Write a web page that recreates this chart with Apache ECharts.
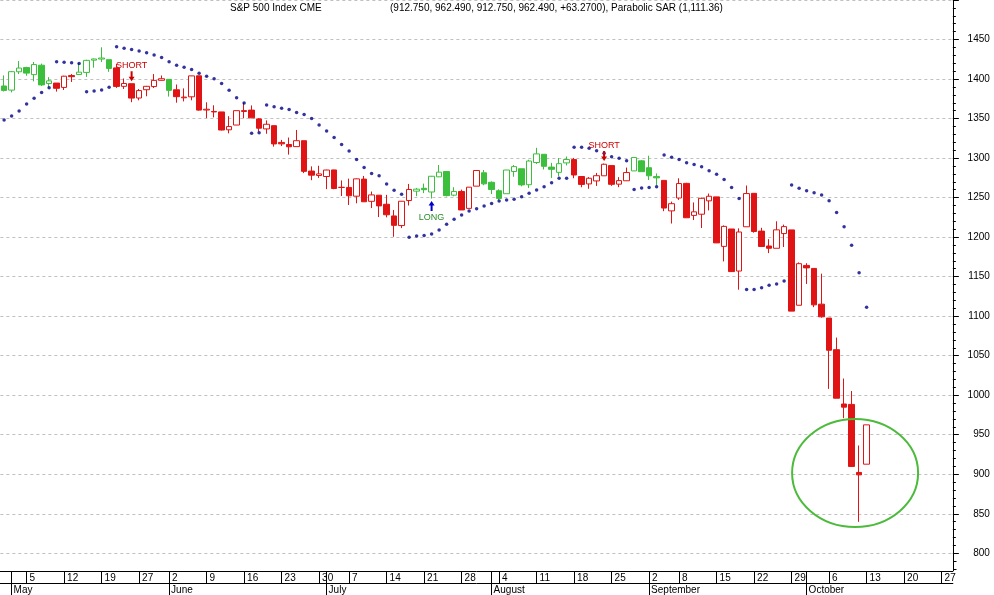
<!DOCTYPE html>
<html><head><meta charset="utf-8">
<script src="https://cdn.jsdelivr.net/npm/echarts@6/dist/echarts.min.js"></script>
<style>html,body{margin:0;padding:0;background:#fff}#c{width:994px;height:595px}</style>
</head><body><div id="c"></div>
<script>
const dates = [
'2008-04-30',
'2008-05-01','2008-05-02','2008-05-05','2008-05-06','2008-05-07','2008-05-08','2008-05-09','2008-05-12','2008-05-13','2008-05-14','2008-05-15','2008-05-16','2008-05-19','2008-05-20','2008-05-21','2008-05-22','2008-05-23','2008-05-27','2008-05-28','2008-05-29','2008-05-30',
'2008-06-02','2008-06-03','2008-06-04','2008-06-05','2008-06-06','2008-06-09','2008-06-10','2008-06-11','2008-06-12','2008-06-13','2008-06-16','2008-06-17','2008-06-18','2008-06-19','2008-06-20','2008-06-23','2008-06-24','2008-06-25','2008-06-26','2008-06-27','2008-06-30',
'2008-07-01','2008-07-02','2008-07-03','2008-07-07','2008-07-08','2008-07-09','2008-07-10','2008-07-11','2008-07-14','2008-07-15','2008-07-16','2008-07-17','2008-07-18','2008-07-21','2008-07-22','2008-07-23','2008-07-24','2008-07-25','2008-07-28','2008-07-29','2008-07-30','2008-07-31',
'2008-08-01','2008-08-04','2008-08-05','2008-08-06','2008-08-07','2008-08-08','2008-08-11','2008-08-12','2008-08-13','2008-08-14','2008-08-15','2008-08-18','2008-08-19','2008-08-20','2008-08-21','2008-08-22','2008-08-25','2008-08-26','2008-08-27','2008-08-28','2008-08-29',
'2008-09-02','2008-09-03','2008-09-04','2008-09-05','2008-09-08','2008-09-09','2008-09-10','2008-09-11','2008-09-12','2008-09-15','2008-09-16','2008-09-17','2008-09-18','2008-09-19','2008-09-22','2008-09-23','2008-09-24','2008-09-25','2008-09-26','2008-09-29','2008-09-30',
'2008-10-01','2008-10-02','2008-10-03','2008-10-06','2008-10-07','2008-10-08','2008-10-09','2008-10-10','2008-10-13','2008-10-14','2008-10-15','2008-10-16','2008-10-17','2008-10-20','2008-10-21','2008-10-22','2008-10-23','2008-10-24','2008-10-27','2008-10-28'
];
const opens = [1391.2,1386.0,1409.2,1414.5,1405.6,1417.5,1394.3,1394.9,1389.4,1404.4,1405.7,1408.4,1423.9,1425.3,1424.5,1414.1,1390.8,1394.1,1376.0,1386.5,1390.5,1398.4,1399.6,1386.4,1376.3,1377.5,1404.1,1360.8,1359.0,1358.4,1335.8,1341.8,1358.9,1360.7,1349.6,1336.9,1341.0,1319.8,1317.2,1314.5,1322.0,1283.6,1278.0,1276.7,1285.0,1263.0,1262.9,1251.8,1273.4,1245.3,1253.1,1241.6,1226.8,1214.6,1246.3,1258.2,1261.8,1257.1,1276.3,1283.0,1253.1,1257.8,1236.4,1264.5,1281.4,1269.4,1258.7,1254.9,1283.0,1286.5,1266.3,1294.4,1304.8,1288.6,1282.0,1293.9,1298.1,1276.7,1267.3,1271.1,1277.6,1290.5,1267.0,1271.3,1283.8,1296.5,1287.8,1276.6,1271.8,1233.2,1249.5,1268.0,1227.5,1229.0,1245.9,1250.9,1188.3,1210.3,1157.1,1213.1,1255.4,1207.6,1188.8,1185.9,1204.5,1209.1,1113.8,1164.2,1160.4,1115.2,1097.6,1057.6,988.9,988.4,902.3,912.75];
const highs = [1404.6,1410.1,1422.7,1415.5,1421.6,1419.5,1402.4,1394.9,1404.1,1406.3,1420.2,1424.4,1425.8,1440.2,1424.5,1419.1,1400.7,1394.1,1387.4,1391.3,1406.3,1404.5,1399.6,1393.1,1388.2,1404.1,1404.1,1370.6,1366.8,1358.4,1353.0,1360.0,1370.0,1366.6,1350.7,1347.7,1341.0,1323.0,1326.0,1335.6,1322.0,1289.5,1290.3,1285.3,1285.3,1271.7,1274.0,1274.2,1277.4,1257.7,1253.1,1253.5,1234.4,1245.5,1267.3,1262.2,1267.7,1277.4,1291.2,1283.0,1263.2,1260.1,1263.2,1284.3,1284.9,1270.5,1260.5,1285.0,1291.2,1286.5,1297.9,1313.0,1304.8,1294.0,1300.1,1302.0,1300.2,1276.7,1276.0,1281.2,1293.1,1290.5,1275.9,1288.0,1300.7,1297.6,1303.0,1280.6,1271.8,1244.9,1274.4,1268.7,1243.9,1250.0,1255.1,1250.9,1214.8,1210.3,1211.1,1265.3,1255.4,1211.8,1197.4,1220.0,1215.8,1209.1,1168.0,1167.0,1160.4,1153.8,1097.6,1072.9,1021.1,1005.3,936.4,962.49];
const lows = [1384.3,1383.1,1406.3,1404.2,1397.1,1391.2,1389.5,1384.1,1386.2,1396.3,1405.7,1402.6,1414.4,1421.6,1409.1,1388.8,1387.5,1370.7,1373.1,1378.2,1388.6,1398.1,1377.8,1370.1,1371.7,1373.1,1359.9,1350.6,1351.5,1335.0,1331.3,1341.7,1350.4,1350.5,1333.4,1330.8,1314.5,1315.3,1304.4,1314.5,1281.0,1272.0,1274.9,1260.7,1260.6,1252.0,1240.7,1242.8,1244.5,1236.8,1225.4,1225.0,1200.4,1211.4,1240.0,1251.8,1255.7,1248.8,1276.0,1251.5,1251.7,1234.4,1236.4,1264.5,1265.7,1254.5,1247.2,1254.9,1276.4,1264.3,1262.1,1292.6,1285.6,1274.9,1276.8,1290.7,1274.5,1263.1,1261.2,1264.8,1277.6,1264.9,1263.2,1271.1,1283.8,1282.7,1272.2,1265.6,1232.8,1217.2,1247.1,1224.5,1221.6,1211.5,1233.8,1192.7,1169.3,1155.9,1133.5,1213.1,1205.6,1187.8,1179.8,1185.9,1187.5,1106.4,1113.8,1140.8,1111.4,1098.1,1008.0,996.2,971.0,909.2,839.8,912.75];
const closes = [1385.6,1409.3,1413.9,1407.5,1418.3,1392.6,1397.7,1388.3,1403.6,1403.0,1408.7,1423.6,1425.4,1426.6,1413.4,1390.7,1394.4,1375.9,1385.4,1390.8,1398.3,1400.4,1385.7,1377.7,1377.2,1404.0,1360.7,1361.8,1358.4,1335.5,1339.9,1360.0,1360.1,1350.9,1337.8,1342.8,1317.9,1318.0,1314.3,1322.0,1283.2,1278.4,1280.0,1284.9,1261.5,1262.9,1252.3,1273.7,1244.7,1253.4,1239.5,1228.3,1214.9,1245.4,1260.3,1260.7,1260.0,1277.0,1282.2,1252.5,1257.8,1234.4,1263.2,1284.3,1267.4,1260.3,1249.0,1284.9,1289.2,1266.1,1296.3,1305.3,1289.6,1285.8,1292.9,1298.2,1278.6,1266.7,1274.5,1277.7,1292.2,1266.8,1271.5,1281.7,1300.7,1282.8,1277.6,1275.0,1236.8,1242.3,1267.8,1224.5,1232.0,1249.1,1251.7,1192.7,1213.6,1156.4,1206.5,1255.1,1207.1,1188.2,1185.9,1209.2,1213.3,1106.4,1166.4,1161.1,1114.3,1099.2,1056.9,996.2,984.9,909.9,899.22,962.49];
const sar = [1348.1,1353.2,1359.5,1368.4,1375.6,1383.1,1389.0,1422.0,1421.1,1420.7,1419.8,1384.0,1384.8,1386.1,1389.5,1440.9,1438.8,1437.5,1435.4,1433.3,1430.4,1427.4,1422.0,1417.5,1415.0,1412.0,1407.2,1403.4,1400.4,1394.5,1385.7,1376.2,1369.6,1331.5,1332.0,1367.1,1365.0,1362.9,1361.6,1357.8,1355.3,1350.2,1341.8,1334.2,1326.2,1317.3,1308.9,1298.3,1288.2,1280.6,1277.5,1267.3,1259.2,1254.1,1199.7,1201.4,1202.2,1203.9,1209.0,1216.2,1222.5,1228.0,1233.0,1236.0,1239.4,1242.7,1245.7,1247.0,1247.8,1251.2,1255.4,1259.6,1263.8,1268.9,1274.4,1274.4,1313.6,1313.6,1312.3,1309.4,1306.0,1301.8,1299.7,1296.7,1260.4,1262.0,1262.7,1263.8,1303.8,1300.9,1298.3,1294.1,1292.0,1289.1,1284.0,1279.4,1273.0,1262.9,1249.0,1133.9,1133.9,1136.0,1139.0,1140.6,1144.4,1265.9,1261.7,1258.7,1256.2,1253.2,1246.1,1231.3,1213.2,1189.6,1155.0,1111.36];
const trendUp = [1,1,1,1,1,1,1,0,0,0,1,1,1,1,1,0,0,0,0,0,0,0,1,0,0,0,0,0,0,0,0,0,0,0,0,0,0,0,0,0,0,0,0,0,0,0,0,0,0,0,0,0,0,0,0,1,1,1,1,1,1,0,0,0,1,1,1,1,1,1,1,1,1,1,1,1,0,0,0,0,0,0,0,0,1,1,1,1,0,0,0,0,0,0,0,0,0,0,0,0,0,0,0,0,0,0,0,0,0,0,0,0,0,0,0,0];
const signals = [{index:17, text:'SHORT', dir:'down'}, {index:57, text:'LONG', dir:'up'}, {index:80, text:'SHORT', dir:'down'}];
const highlight = {index:114, value:901.6};
const yMin = 800, yMax = 1500, yStep = 50;
const monthNames = ['January','February','March','April','May','June','July','August','September','October','November','December'];

const FONT = 'Liberation Sans';
const GREEN = '#3cbf3c', RED = '#e01414', NAVY = '#000088';
const dow = s => new Date(s + 'T00:00:00Z').getUTCDay();
const weekStart = dates.map((d,i) => i > 0 && dow(d) <= dow(dates[i-1]));
const monthStart = dates.map((d,i) => i > 0 && d.slice(5,7) !== dates[i-1].slice(5,7));

const candleData = opens.map((o,i) => {
  const col = trendUp[i] ? GREEN : RED;
  const fill = closes[i] > o ? '#ffffff' : col;
  return {value:[o, closes[i], lows[i], highs[i]],
    itemStyle:{color:fill, color0:fill, borderColor:col, borderColor0:col, borderWidth:1}};
});
const n = closes.length;
const fmt3 = v => v.toFixed(3);
const chg = closes[n-1] - closes[n-2];
const infoText = '(' + [opens[n-1],highs[n-1],lows[n-1],closes[n-1]].map(fmt3).join(', ') + ', ' + (chg>=0?'+':'') + chg.toFixed(4) + '), Parabolic SAR (' + sar[n-1].toLocaleString('en-US',{minimumFractionDigits:2, maximumFractionDigits:2}) + ')';

const chart = echarts.init(document.getElementById('c'));
const option = {
  animation:false,
  backgroundColor:'#ffffff',
  textStyle:{fontFamily:FONT},
  title:[
    {text:'S&P 500 Index CME', left:230, top:3, padding:0, textStyle:{fontSize:10, fontWeight:'normal', color:'#000', fontFamily:FONT}},
    {text:infoText, left:390, top:3, padding:0, textStyle:{fontSize:10, fontWeight:'normal', color:'#000', fontFamily:FONT}}
  ],
  grid:{left:0.35, right:41.15, top:0, bottom:41.7, containLabel:false, outerBoundsMode:'none'},
  xAxis:[
    {type:'category', data:dates, boundaryGap:true, position:'bottom', offset:17.7,
     axisLine:{show:true, lineStyle:{color:'#000', width:1}},
     axisTick:{show:true, alignWithLabel:true, length:12, interval:(i)=>weekStart[i]||monthStart[i], lineStyle:{color:'#000'}},
     axisLabel:{interval:(i)=>weekStart[i], formatter:(v)=>String(parseInt(v.slice(8),10)), align:'left', margin:2, padding:[0,0,0,3], fontSize:10, lineHeight:10, color:'#000', fontFamily:FONT},
     splitLine:{show:false}},
    {type:'category', data:dates, boundaryGap:true, position:'bottom', offset:30,
     axisLine:{show:true, lineStyle:{color:'#000', width:1}},
     axisTick:{show:true, alignWithLabel:true, length:12, interval:(i)=>monthStart[i], lineStyle:{color:'#000'}},
     axisLabel:{interval:(i)=>monthStart[i], formatter:(v)=>monthNames[parseInt(v.slice(5,7),10)-1], align:'left', margin:2, padding:[0,0,0,2], fontSize:10, lineHeight:10, color:'#000', fontFamily:FONT},
     splitLine:{show:false}}
  ],
  yAxis:{type:'value', position:'right', min:yMin, max:yMax, interval:yStep, scale:true,
    axisLine:{show:true, lineStyle:{color:'#000', width:1}},
    axisTick:{show:true, length:6, lineStyle:{color:'#000'}},
    minorTick:{show:true, splitNumber:5, length:3, lineStyle:{color:'#000'}},
    axisLabel:{color:'#000', fontSize:10, align:'right', margin:37, showMaxLabel:false, fontFamily:FONT, formatter:(v)=>String(v)},
    splitLine:{show:true, lineStyle:{color:'#c0c0c0', type:[3,3], width:1}}
  },
  series:[
    {type:'candlestick', name:'S&P 500', xAxisIndex:0, yAxisIndex:0, barWidth:6, data:candleData, z:2},
    {type:'scatter', name:'Parabolic SAR', xAxisIndex:0, yAxisIndex:0, symbol:'circle', symbolSize:3.5, itemStyle:{color:NAVY}, data:sar, z:3}
  ]
};
chart.setOption(option);

const px = (i,v) => chart.convertToPixel({xAxisIndex:0, yAxisIndex:0}, [i, v]);
const g = [];
signals.forEach(s => {
  if (s.dir === 'down') {
    const p = px(s.index, highs[s.index]); const x = p[0], tip = p[1] - 2.5;
    g.push({type:'polygon', shape:{points:[[x-1,tip-10],[x+1,tip-10],[x+1,tip-4.5],[x+3,tip-4.5],[x,tip],[x-3,tip-4.5],[x-1,tip-4.5]]}, style:{fill:'#cc0000'}, z:10});
    g.push({type:'text', x:x, y:tip-15.5, style:{text:s.text, fill:'#cc0000', font:'9px "Liberation Sans"', textAlign:'center', textVerticalAlign:'middle'}, z:10});
  } else {
    const p = px(s.index, lows[s.index]); const x = p[0], tip = p[1] + 2.5;
    g.push({type:'polygon', shape:{points:[[x-1,tip+10],[x+1,tip+10],[x+1,tip+4.5],[x+3,tip+4.5],[x,tip],[x-3,tip+4.5],[x-1,tip+4.5]]}, style:{fill:'#0000cc'}, z:10});
    g.push({type:'text', x:x, y:tip+16, style:{text:s.text, fill:'#2a8a2a', font:'9px "Liberation Sans"', textAlign:'center', textVerticalAlign:'middle'}, z:10});
  }
});
const c = px(highlight.index, highlight.value);
g.push({type:'ellipse', shape:{cx:c[0]-4, cy:c[1], rx:63, ry:54}, style:{fill:'none', stroke:'#4cbb3c', lineWidth:2}, z:10});
// extension of the price axis below the lowest tick
const pTop = px(dates.length-1, yMin), pBot = px(dates.length-1, 777.5);
const axX = Math.round(pTop[0] + 3.75) + 0.5;
g.push({type:'line', shape:{x1:axX, y1:pTop[1], x2:axX, y2:pBot[1]}, style:{stroke:'#000', lineWidth:1}, z:10});
[790, 780].forEach(v => { const y = Math.round(px(0, v)[1]) + 0.5; g.push({type:'line', shape:{x1:axX, y1:y, x2:axX+3, y2:y}, style:{stroke:'#000', lineWidth:1}, z:10}); });
chart.setOption({graphic:g});
</script></body></html>
